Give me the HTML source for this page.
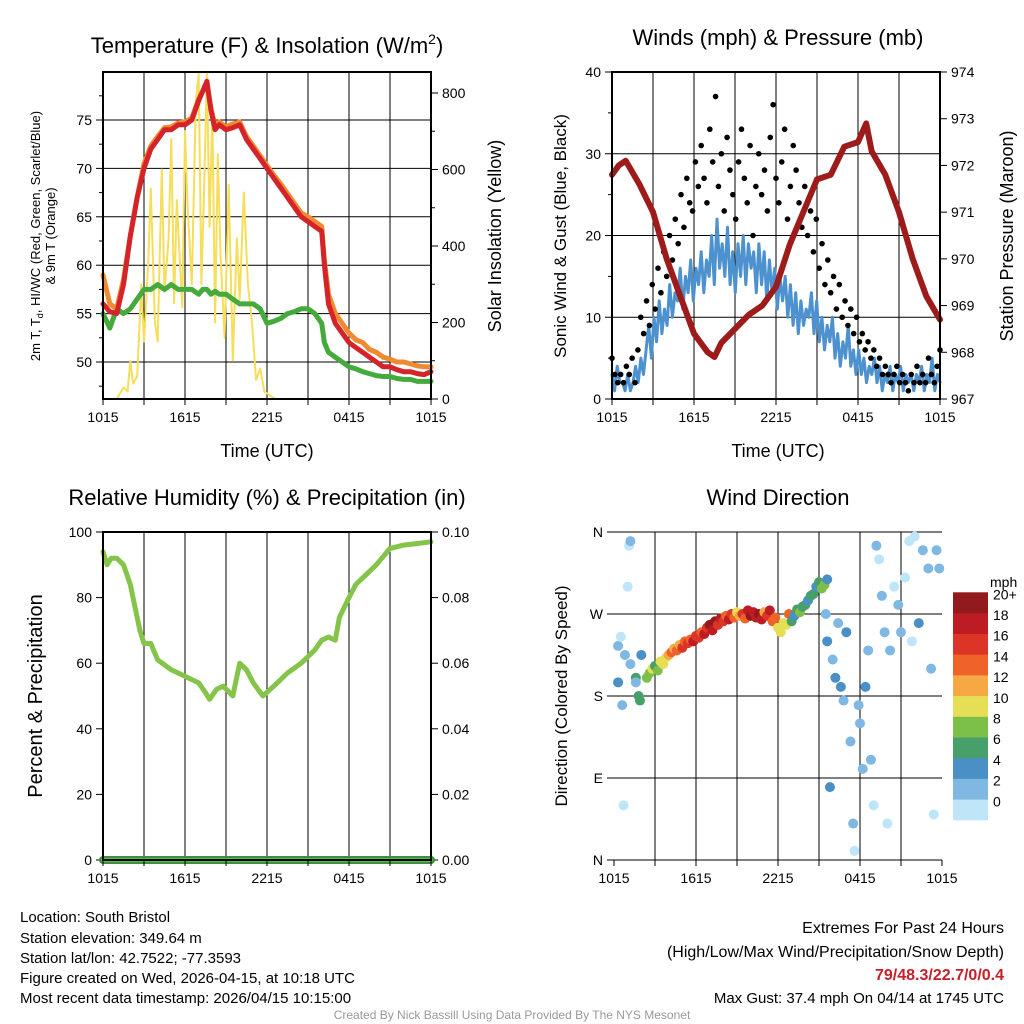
<!DOCTYPE html>
<html><head><meta charset="utf-8"><style>
body{margin:0;background:#fff;}
svg{display:block;font-family:"Liberation Sans",Arial,sans-serif;}
</style></head><body>
<svg id="s" width="1024" height="1024" viewBox="0 0 1024 1024" xmlns="http://www.w3.org/2000/svg">
<g font-size="22" text-anchor="middle" fill="#000">
<text x="267" y="53">Temperature (F) &amp; Insolation (W/m<tspan dy="-9" font-size="14">2</tspan><tspan dy="9">)</tspan></text>
<text x="778" y="45">Winds (mph) &amp; Pressure (mb)</text>
<text x="267" y="505">Relative Humidity (%) &amp; Precipitation (in)</text>
<text x="778" y="505">Wind Direction</text>
</g>
<g font-size="18" text-anchor="middle">
<text x="267" y="457">Time (UTC)</text>
<text x="778" y="457">Time (UTC)</text>
<text transform="translate(501,236) rotate(-90)">Solar Insolation (Yellow)</text>
<text transform="translate(566,236) rotate(-90)" font-size="17">Sonic Wind &amp; Gust (Blue, Black)</text>
<text transform="translate(1013,236) rotate(-90)">Station Pressure (Maroon)</text>
<text transform="translate(42,696) rotate(-90)" font-size="20">Percent &amp; Precipitation</text>
<text transform="translate(567,696) rotate(-90)" font-size="17">Direction (Colored By Speed)</text>
</g>
<g font-size="13" text-anchor="middle">
<text transform="translate(40,236) rotate(-90)">2m T, T<tspan font-size="9" dy="3">d</tspan><tspan dy="-3">, HI/WC (Red, Green, Scarlet/Blue)</tspan></text>
<text transform="translate(55,236) rotate(-90)">&amp; 9m T (Orange)</text>
</g>
<g id="plots"></g>
<g font-size="15" fill="#000">
<text x="20" y="922">Location: South Bristol</text>
<text x="20" y="943">Station elevation: 349.64 m</text>
<text x="20" y="963">Station lat/lon: 42.7522; -77.3593</text>
<text x="20" y="983">Figure created on Wed, 2026-04-15, at 10:18 UTC</text>
<text x="20" y="1003">Most recent data timestamp: 2026/04/15 10:15:00</text>
<g text-anchor="end">
<text x="1004" y="933" font-size="16">Extremes For Past 24 Hours</text>
<text x="1004" y="957" font-size="16">(High/Low/Max Wind/Precipitation/Snow Depth)</text>
<text x="1004" y="980" font-size="16" font-weight="bold" fill="#c8202a">79/48.3/22.7/0/0.4</text>
<text x="1004" y="1003">Max Gust: 37.4 mph On 04/14 at 1745 UTC</text>
</g>
<text x="512" y="1019" font-size="12" fill="#999" text-anchor="middle">Created By Nick Bassill Using Data Provided By The NYS Mesonet</text>
</g>
</svg>
<script>
// ---- data ----
const xTickLabels = ["1015","1615","2215","0415","1015"];
const tempTicks = [50,55,60,65,70,75];
const solarTicks = [0,200,400,600,800];
const windTicks = [0,10,20,30,40];
const presTicks = [967,968,969,970,971,972,973,974];
const rhTicks = [0,20,40,60,80,100];
const precipTicks = ["0.00","0.02","0.04","0.06","0.08","0.10"];
const dirTickLabels = ["N","E","S","W","N"];
const speedBins = ["0","2","4","6","8","10","12","14","16","18","20+"];

const tempT = [0,0.5,1,1.5,2,2.5,3,3.5,4,4.5,5,5.5,6,6.5,7,7.3,7.6,7.9,8.2,8.5,9,9.5,10,10.5,11,11.5,12,12.5,13,13.5,14,14.5,15,15.5,16,16.2,16.5,17,17.5,18,18.5,19,19.5,20,20.5,21,21.5,22,22.5,23,23.5,24];
const tempRed = [56,55.2,55,58,63,67,70,72,73,74,74,74.5,74.5,75,77,78,79,76,74,74.5,74,74.2,74.5,73,72,71,70,69,68,67,66,65,64.5,64,63.5,60,56,54,53,52,51.5,51,50.5,50,49.5,49.5,49.2,49,49,48.8,48.7,49];
const tempOrange = [59,56,55.5,58.5,63,67,70.5,72.3,73.3,74.2,74.3,74.7,74.8,75.2,77.2,78,78.5,76.2,74.4,74.8,74.3,74.6,74.8,73.3,72.3,71.3,70.3,69.3,68.4,67.4,66.4,65.4,65,64.5,64,60.5,57,55,54,53,52.3,52,51.3,51,50.5,50.3,50,50,49.8,49.6,49.5,49.5];
const tempGreen = [55,53.5,55.5,55,55.5,56.5,57.5,57.5,58,57.5,58,57.5,57.5,57.5,57,57.5,57.5,57,57.3,57,57,56.5,56,56,56,55.5,54,54.2,54.5,55,55.2,55.5,55.5,55,54,52,51,50.5,50,49.5,49.3,49,48.8,48.6,48.5,48.5,48.3,48.2,48.2,48,48,48];
const solarT = [0,1,1.5,1.8,2,2.2,2.5,2.8,3,3.3,3.5,3.8,4,4.3,4.5,4.8,5,5.2,5.4,5.6,5.8,6,6.2,6.5,6.8,7,7.2,7.4,7.6,7.8,8,8.2,8.4,8.6,8.9,9.2,9.5,9.8,10,10.3,10.6,10.9,11.2,11.5,11.8,12.2,12.6,13,24];
const solarV = [0,0,30,20,100,40,60,300,150,350,550,200,150,600,280,420,680,250,520,380,240,700,500,300,780,850,300,550,850,450,750,200,640,380,160,560,100,420,260,540,300,200,50,80,20,10,0,0,0];
const windV = [3,1,4,2,2,1,3,1,2,4,2,5,3, 6,9,5,10,7,12,8,11,9,14,10,13, 12,16,11,15,13,17,12,16,14,18, 13,17,15,20,14,22,16,19,15,21, 14,18,13,19,15,20,14,19,16,18, 13,19,14,18,12,17,13,16,11,15, 12,15,10,14,9,13,8,12,9,11, 10,13,8,12,7,10,6,9,7,10, 5,8,4,7,5,9,4,6,3,6, 3,5,2,4,3,5,2,4,1,3, 2,4,1,3,2,4,1,3,2,3, 1,3,2,4,1,3,2,5,1,3,2];
const gustV = [5,3,2,3,2,4,3,5,2, 6,10,8,12,9,14,11,16,13,18, 15,20,17,22,19,25,21,27,24,23,29,26, 31,27,24,33,29,37,26,30,23,32,28,25, 22,29,33,27,24,31,20,26,30,25,28,23, 32,36,27,24,29,33,22,26,31,28,24,21, 26,20,23,18,22,16,19,14,17,13, 15,11,14,10,12,9,11,8,10,7, 8,6,7,5,6,4,5,3, 4,3,2,3,4,2,3,2,1,3,2,4,2,3,2,5,3,2,4,6];
const presT = [0,0.5,1,2,3,4,5,6,7,7.5,8,9,10,11,12,13,14,15,16,17,18,18.6,19,20,21,22,23,24];
const presV = [971.8,972,972.1,971.6,971,970,969.2,968.4,968,967.9,968.2,968.5,968.8,969,969.4,970.3,971,971.7,971.8,972.4,972.5,972.9,972.3,971.8,971,970,969.2,968.7];
const rhT = [0,0.3,0.6,1,1.5,2,2.3,2.7,3,3.5,4,5,6,6.5,7,7.5,7.8,8.3,8.8,9.5,10,10.5,11,11.7,12.5,13.5,14.5,15.5,16,16.5,17,17.3,18,18.5,19,20,21,22,23,24];
const rhV = [94,90,92,92,90,84,78,70,66,66,61,58,56,55,54,51,49,52,53,50,60,58,54,50,53,57,60,64,67,68,67,74,80,84,86,90,95,96,96.5,97];
const precipV = [0,0,0,0,0];
const dirT = [0.3,0.5,0.8,0.3,0.6,1,1.1,1.2,0.7,1.2,1.6,1.8,1.9,1.6,2,
 2.4,2.6,2.8,3.0,3.2,3.4,3.6,3.8,4.0,4.2,4.4,4.6,4.8,5.0,5.2,5.4,5.6,5.8,6.0,6.2,6.4,6.6,6.8,7.0,7.2,7.4,7.6,7.8,8.0,8.2,8.4,8.6,8.8,9.0,9.2,9.4,9.6,9.8,10.0,10.2,10.4,10.6,10.8,11.0,11.2,11.4,11.6,11.8,12.0,12.2,12.4,12.6,12.8,13.0,13.2,13.4,13.6,13.8,14.0,14.2,14.4,14.6,14.8,15.0,15.2,15.4,15.6,
 15.5,15.6,15.8,16,16.2,16.4,16.6,16.8,17,17.3,17.5,17.6,17.9,18,18.2,18.4,18.6,18.8,19,19.2,19.4,19.6,19.8,20,20.2,20.5,20.8,21,21.3,21.6,21.8,22,22.3,22.6,23,23.2,23.4,23.6,23.8];
const dirD = [235,245,225,195,170,300,345,350,60,215,200,180,175,195,225,
 200,205,210,213,208,218,215,222,225,228,232,230,236,233,240,238,242,240,246,244,250,248,255,258,252,262,258,265,262,268,264,270,266,272,268,270,265,274,268,272,266,270,264,272,268,274,262,266,255,250,260,258,270,262,268,275,272,278,280,285,290,292,300,305,298,302,308,
 270,240,80,220,200,260,190,175,250,130,40,10,170,150,100,190,230,110,60,345,330,290,250,40,230,300,280,250,310,350,240,355,260,340,320,210,50,340,320];
const dirS = [2,1,2,4,3,1,1,2,1,3,6,6,7,3,5,
 8,9,10,7,9,10,11,10,12,14,13,15,13,16,14,17,15,18,16,17,14,18,16,20,18,20,17,18,16,14,18,17,15,10,13,16,14,18,20,19,18,20,18,13,16,18,15,14,10,10,11,10,14,6,4,7,8,7,6,5,6,7,4,6,8,9,5,
 3,4,4,3,4,2,5,3,4,2,2,1,3,2,2,4,3,3,1,2,1,2,2,0,3,1,2,3,1,1,1,0,4,2,2,3,1,3,2];

// ---- helpers ----
const NS="http://www.w3.org/2000/svg";
const root=document.getElementById('plots');
function mk(tag,attrs,parent){const e=document.createElementNS(NS,tag);for(const k in attrs)e.setAttribute(k,attrs[k]);(parent||root).appendChild(e);return e;}
function lin(d0,d1,r0,r1){return v=>r0+(v-d0)/(d1-d0)*(r1-r0);}
const colors=["#bfe5f8","#7fb8e2","#4a8fc6","#47a06a","#7cc04a","#e6df55","#f6a844","#ef6329","#dc3527","#be1c24","#921a1d"];

function panelFrame(name,L,T,W,H){
  const g=mk('g',{});
  
  
  for(let i=1;i<8;i++){const x=L+W*i/8;mk('line',{x1:x,x2:x,y1:T,y2:T+H,stroke:'#000','stroke-width':1},g);}
  return g;
}
function xAxis(name,L,T,W,H){
  const g=mk('g',{'font-size':14,'text-anchor':'middle'});
  
  
  for(let i=0;i<=8;i++){const x=L+W*i/8;mk('line',{x1:x,x2:x,y1:T+H,y2:T+H+6,stroke:'#000'},g);}
  xTickLabels.forEach((t,i)=>{const e=mk('text',{x:L+W*i/4,y:T+H+23},g);e.textContent=t;});
}
function border(name,L,T,W,H){
  const r=mk('rect',{x:L,y:T,width:W,height:H,fill:'none',stroke:'#000','stroke-width':2});
  
  
}
function yAxis(name,ticks,labels,sc,x,side,grid,L,W,minor){
  const g=mk('g',{'font-size':14,'text-anchor':side<0?'end':'start'});
  
  
  ticks.forEach((t,i)=>{const y=sc(t);
    mk('line',{x1:x,x2:x+side*7,y1:y,y2:y,stroke:'#000'},g);
    if(grid)mk('line',{x1:L,x2:L+W,y1:y,y2:y,stroke:'#000'},g);
    const e=mk('text',{x:x+side*11,y:y+5},g);e.textContent=labels[i];});
  if(minor)minor.forEach(t=>{const y=sc(t);mk('line',{x1:x,x2:x+side*4,y1:y,y2:y,stroke:'#000'},g);});
}
function path(xs,ys,sx,sy,col,w,name){
  let d='';xs.forEach((t,i)=>{d+=(i?'L':'M')+sx(t).toFixed(1)+','+sy(ys[i]).toFixed(1);});
  const p=mk('path',{d:d,fill:'none',stroke:col,'stroke-width':w,'stroke-linejoin':'round','stroke-linecap':'round'});
  
  
  return p;
}
function idxT(arr){return arr.map((v,i)=>i*24/(arr.length-1));}

// ---- Panel 1: temperature ----
{const L=103,T=72,W=328,H=327;
 const sx=lin(0,24,L,L+W), sy=lin(50,75,362,120), ss=lin(0,800,399,93);
 panelFrame('temp',L,T,W,H);
 yAxis('temp-y-axis',tempTicks,tempTicks.map(String),sy,L,-1,true,L,W,[47.5,52.5,57.5,62.5,67.5,72.5,77.5]);
 yAxis('solar-y-axis',solarTicks,solarTicks.map(String),ss,L+W,1,false,L,W,[100,300,500,700]);
 const clip=mk('clipPath',{id:'c1'});mk('rect',{x:L,y:T,width:W,height:H},clip);
 const g=mk('g',{'clip-path':'url(#c1)'});
 path(solarT,solarV,sx,ss,'#f6de5a',2,'solar-insolation-line');
 path(tempT,tempGreen,sx,sy,'#45aa3c',5,'dewpoint-line');
 path(tempT,tempOrange,sx,sy,'#f08a30',5,'temp-9m-line');
 path(tempT,tempRed,sx,sy,'#d4242a',5,'temp-2m-line');
 xAxis('temp',L,T,W,H);border('temp',L,T,W,H);}

// ---- Panel 2: winds ----
{const L=612,T=72,W=328,H=327;
 const sx=lin(0,24,L,L+W), sy=lin(0,40,399,72), sp=lin(967,974,399,72);
 panelFrame('wind',L,T,W,H);
 yAxis('wind-y-axis',windTicks,windTicks.map(String),sy,L,-1,true,L,W,[5,15,25,35]);
 yAxis('pressure-y-axis',presTicks,presTicks.map(String),sp,L+W,1,false,L,W,null);
 path(idxT(windV),windV,sx,sy,'#4d92cf',3,'sonic-wind-line');
 const gt=idxT(gustV);
 gustV.forEach((v,i)=>{const c=mk('circle',{cx:sx(gt[i]),cy:sy(v),r:2.8,fill:'#000'});
   
   });
 path(presT,presV,sx,sp,'#9e1b1b',6,'pressure-line');
 xAxis('wind',L,T,W,H);border('wind',L,T,W,H);}

// ---- Panel 3: RH ----
{const L=103,T=532,W=328,H=328;
 const sx=lin(0,24,L,L+W), sy=lin(0,100,860,532), sq=lin(0,0.1,860,532);
 panelFrame('rh',L,T,W,H);
 yAxis('rh-y-axis',rhTicks,rhTicks.map(String),sy,L,-1,false,L,W,null);
 yAxis('precip-y-axis',[0,0.02,0.04,0.06,0.08,0.1],precipTicks,sq,L+W,1,false,L,W,null);
 path(rhT,rhV,sx,sy,'#84c449',5,'relative-humidity-line');
 path(idxT(precipV),precipV,sx,sq,'#3f8f3f',8,'precipitation-line');
 path(idxT(precipV),precipV,sx,sq,'#5fb84a',4,'precipitation-line-inner');
 xAxis('rh',L,T,W,H);border('rh',L,T,W,H);}

// ---- Panel 4: direction ----
{const L=614,T=532,W=328,H=328;
 const sx=lin(0,24,L,L+W), sy=lin(0,360,860,532);
 panelFrame('direction',L,T,W,H);
 const dirVals=[0,90,180,270,360];
 yAxis('direction-y-axis',dirVals,dirTickLabels,sy,L,-1,true,L,W,null);
 dirT.forEach((t,i)=>{const b=Math.min(10,Math.max(0,Math.floor(dirS[i]/2)));
   const c=mk('circle',{cx:sx(t),cy:sy(dirD[i]),r:5,fill:colors[b]});
   
   });
 xAxis('direction',L,T,W,H);
 const cb=mk('g',{'font-size':14});
 
 
 const t=mk('text',{x:990,y:587},cb);t.textContent='mph';
 speedBins.forEach((lab,i)=>{const y=820-(i+1)*20.7;
   mk('rect',{x:953,y:y,width:35,height:21,fill:colors[i]},cb);
   const e=mk('text',{x:993,y:y+7},cb);e.textContent=lab;});
}
</script>
</body></html>
